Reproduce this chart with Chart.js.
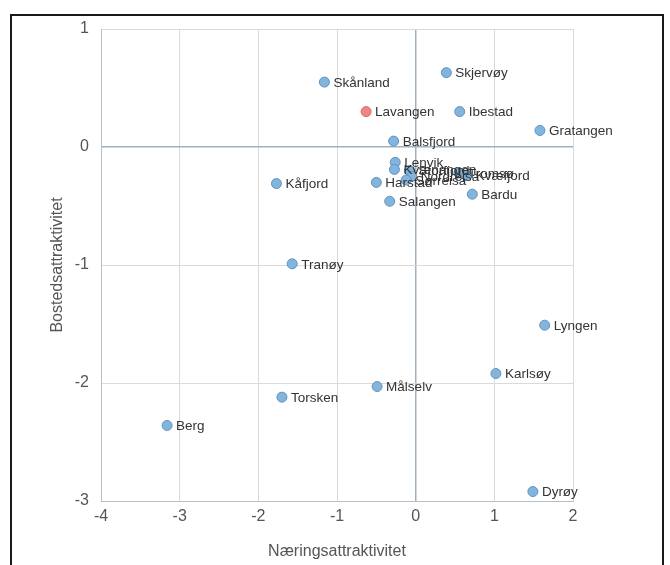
<!DOCTYPE html>
<html>
<head>
<meta charset="utf-8">
<script src="https://cdn.jsdelivr.net/npm/chart.js@4/dist/chart.umd.min.js"></script>
<style>
  html, body { margin: 0; padding: 0; background: #fff; }
  #wrap { position: relative; width: 670px; height: 565px; overflow: hidden; }
  #frame { position: absolute; left: 10px; top: 14px; width: 650px; height: 570px; border: 2px solid #1a1a1a; }
  canvas { position: absolute; left: 0; top: 0; }
</style>
</head>
<body>
<div id="wrap">
  <div id="frame"></div>
  <canvas id="chart-kommuner" width="670" height="565"></canvas>
</div>
<script>
const kommuner = ['Skjervøy', 'Skånland', 'Ibestad', 'Gratangen', 'Balsfjord', 'Lenvik', 'Kvænangen',
  'Storfjord', 'Nordreisa', 'Sørreisa', 'Tromsø', 'Kvæfjord', 'Harstad', 'Kåfjord', 'Salangen', 'Bardu',
  'Tranøy', 'Lyngen', 'Karlsøy', 'Målselv', 'Torsken', 'Berg', 'Dyrøy'];
const naering = [0.39, -1.16, 0.56, 1.58, -0.28, -0.26, -0.27, -0.08, -0.05, -0.12, 0.55, 0.65, -0.50,
  -1.77, -0.33, 0.72, -1.57, 1.64, 1.02, -0.49, -1.70, -3.16, 1.49];
const bosted = [0.63, 0.55, 0.30, 0.14, 0.05, -0.13, -0.19, -0.20, -0.25, -0.28, -0.22, -0.24, -0.30,
  -0.31, -0.46, -0.40, -0.99, -1.51, -1.92, -2.03, -2.12, -2.36, -2.92];

const lavangen = { navn: 'Lavangen', x: -0.63, y: 0.30 };

// navn på hvert punkt, rett til høyre for markøren
const navnPlugin = {
  id: 'navn',
  afterDatasetsDraw(chart) {
    const ctx = chart.ctx;
    ctx.save();
    ctx.font = '13.5px "Liberation Sans", Arial, sans-serif';
    ctx.fillStyle = '#333';
    ctx.textBaseline = 'middle';
    chart.data.datasets.forEach((ds, i) => {
      chart.getDatasetMeta(i).data.forEach((pt, j) => {
        ctx.fillText(ds.navn[j], pt.x + 9, pt.y + 1);
      });
    });
    ctx.restore();
  }
};

const fontAkse = { size: 16, family: '"Liberation Sans", Arial' };

const ctx = document.getElementById('chart-kommuner').getContext('2d');
new Chart(ctx, {
  type: 'scatter',
  data: {
    datasets: [{
      data: kommuner.map((k, i) => ({ x: naering[i], y: bosted[i] })),
      navn: kommuner,
      backgroundColor: '#83b4dc',
      borderColor: '#5f93c2',
      borderWidth: 1,
      pointRadius: 5
    }, {
      data: [{ x: lavangen.x, y: lavangen.y }],
      navn: [lavangen.navn],
      backgroundColor: '#ef8585',
      borderColor: '#d86a6a',
      borderWidth: 1,
      pointRadius: 5
    }]
  },
  options: {
    responsive: false,
    animation: false,
    layout: { padding: { left: 0, right: 97, top: 29, bottom: 0 } },
    plugins: {
      legend: { display: false },
      tooltip: { enabled: false }
    },
    scales: {
      x: {
        min: -4, max: 2,
        afterFit: (s) => { s.height = 64; },
        ticks: { stepSize: 1, color: '#555', font: fontAkse, padding: 6 },
        grid: {
          color: (c) => c.tick && c.tick.value === 0 ? '#9fb0bf' : '#dadada',
          lineWidth: (c) => c.tick && c.tick.value === 0 ? 1.5 : 1,
          drawTicks: false
        },
        border: { color: '#b5c0ca' },
        title: { display: true, text: 'Næringsattraktivitet', color: '#555', font: fontAkse, padding: { top: 4 } }
      },
      y: {
        min: -3, max: 1,
        afterFit: (s) => { s.width = 101; },
        ticks: { stepSize: 1, color: '#555', font: fontAkse, padding: 12 },
        grid: {
          color: (c) => c.tick && c.tick.value === 0 ? '#9fb0bf' : '#dadada',
          lineWidth: (c) => c.tick && c.tick.value === 0 ? 1.5 : 1,
          drawTicks: false
        },
        border: { color: '#b5c0ca' },
        title: { display: true, text: 'Bostedsattraktivitet', color: '#555', font: fontAkse, padding: { top: 48, bottom: 0 } }
      }
    }
  },
  plugins: [navnPlugin]
});
</script>
</body>
</html>
